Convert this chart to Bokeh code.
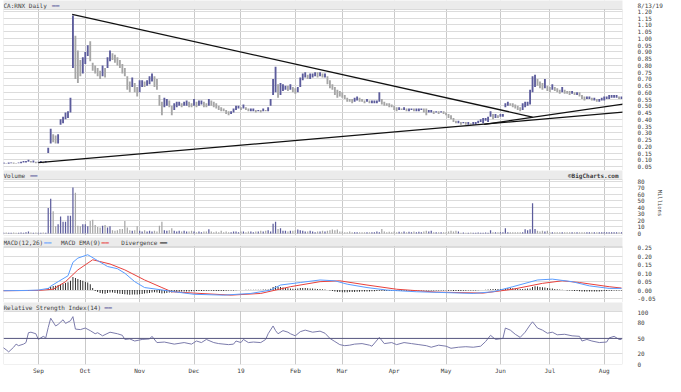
import pandas as pd
from bokeh.plotting import figure
from bokeh.layouts import column
from bokeh.models import (Range1d, FixedTicker, Span, BoxAnnotation,
                          NumeralTickFormatter, ColumnDataSource)
from bokeh.core.properties import value
from bokeh.embed import file_html
from bokeh.resources import INLINE

# ---------------- data ----------------
symbol_title = "CA:RNX Daily"
as_of = "8/13/19"
holidays = ["2018-09-03", "2018-10-08", "2018-12-25", "2018-12-26", "2019-01-01",
            "2019-02-18", "2019-04-19", "2019-05-20", "2019-07-01", "2019-08-05"]
month_labels = ["Sep", "Oct", "Nov", "Dec", "19", "Feb", "Mar", "Apr", "May", "Jun", "Jul", "Aug"]

lows = [
    0.07, 0.07, 0.07, 0.07, 0.075, 0.07, 0.07, 0.075, 0.075, 0.08,
    0.08, 0.085, 0.08, 0.08, 0.075, 0.08, 0.08, 0.075, 0.08, 0.15,
    0.22, 0.23, 0.22, 0.22, 0.36, 0.37, 0.40, 0.41, 0.45, 0.78,
    0.70, 0.67, 0.72, 0.74, 0.81, 0.87, 0.83, 0.76, 0.74, 0.72,
    0.70, 0.72, 0.71, 0.78, 0.83, 0.84, 0.82, 0.80, 0.78, 0.74,
    0.72, 0.62, 0.60, 0.64, 0.60, 0.57, 0.60, 0.64, 0.64, 0.65,
    0.66, 0.68, 0.64, 0.62, 0.50, 0.43, 0.49, 0.50, 0.49, 0.43,
    0.47, 0.49, 0.50, 0.49, 0.50, 0.50, 0.49, 0.49, 0.50, 0.49,
    0.50, 0.51, 0.49, 0.49, 0.50, 0.50, 0.49, 0.48, 0.47, 0.46,
    0.46, 0.44, 0.43, 0.44, 0.45, 0.47, 0.48, 0.47, 0.48, 0.47,
    0.46, 0.46, 0.46, 0.45, 0.46, 0.45, 0.46, 0.46, 0.46, 0.50,
    0.58, 0.60, 0.56, 0.58, 0.61, 0.62, 0.61, 0.62, 0.60, 0.59,
    0.60, 0.64, 0.69, 0.71, 0.70, 0.70, 0.71, 0.72, 0.71, 0.72,
    0.71, 0.71, 0.66, 0.63, 0.62, 0.58, 0.56, 0.57, 0.56, 0.55,
    0.53, 0.53, 0.52, 0.53, 0.54, 0.53, 0.53, 0.52, 0.53, 0.52,
    0.52, 0.52, 0.52, 0.53, 0.51, 0.50, 0.50, 0.49, 0.49, 0.47,
    0.46, 0.47, 0.47, 0.47, 0.46, 0.46, 0.47, 0.46, 0.46, 0.46,
    0.47, 0.45, 0.43, 0.45, 0.45, 0.44, 0.45, 0.44, 0.45, 0.44,
    0.43, 0.41, 0.40, 0.38, 0.37, 0.37, 0.36, 0.37, 0.36, 0.36,
    0.36, 0.36, 0.36, 0.37, 0.38, 0.37, 0.39, 0.38, 0.42, 0.40,
    0.41, 0.41, 0.42, 0.42, 0.49, 0.50, 0.50, 0.49, 0.48, 0.47,
    0.46, 0.47, 0.49, 0.50, 0.51, 0.60, 0.64, 0.65, 0.63, 0.62,
    0.63, 0.61, 0.60, 0.62, 0.61, 0.60, 0.59, 0.60, 0.59, 0.59,
    0.58, 0.59, 0.58, 0.58, 0.57, 0.55, 0.54, 0.55, 0.55, 0.54,
    0.54, 0.53, 0.53, 0.54, 0.54, 0.55, 0.55, 0.56, 0.56, 0.56,
    0.55, 0.55]

highs = [
    0.08, 0.08, 0.075, 0.08, 0.08, 0.08, 0.075, 0.08, 0.085, 0.09,
    0.09, 0.10, 0.09, 0.095, 0.085, 0.085, 0.09, 0.085, 0.09, 0.19,
    0.33, 0.29, 0.28, 0.29, 0.40, 0.42, 0.45, 0.46, 0.56, 1.17,
    1.02, 0.91, 0.84, 0.86, 0.90, 0.95, 0.98, 0.82, 0.80, 0.78,
    0.76, 0.80, 0.78, 0.86, 0.91, 0.89, 0.88, 0.86, 0.84, 0.81,
    0.78, 0.72, 0.68, 0.71, 0.67, 0.64, 0.69, 0.69, 0.68, 0.69,
    0.72, 0.74, 0.72, 0.70, 0.58, 0.53, 0.56, 0.55, 0.54, 0.50,
    0.52, 0.53, 0.53, 0.52, 0.53, 0.54, 0.53, 0.52, 0.55, 0.53,
    0.54, 0.54, 0.53, 0.52, 0.55, 0.54, 0.53, 0.52, 0.50, 0.49,
    0.48, 0.47, 0.46, 0.46, 0.48, 0.50, 0.50, 0.49, 0.51, 0.49,
    0.48, 0.48, 0.48, 0.47, 0.47, 0.47, 0.48, 0.47, 0.49, 0.55,
    0.70, 0.79, 0.66, 0.67, 0.66, 0.65, 0.65, 0.66, 0.64, 0.63,
    0.64, 0.71, 0.74, 0.75, 0.73, 0.74, 0.74, 0.75, 0.75, 0.75,
    0.74, 0.74, 0.72, 0.69, 0.66, 0.64, 0.62, 0.61, 0.60, 0.58,
    0.56, 0.55, 0.55, 0.56, 0.57, 0.56, 0.55, 0.54, 0.55, 0.54,
    0.54, 0.54, 0.54, 0.60, 0.55, 0.53, 0.52, 0.52, 0.51, 0.50,
    0.49, 0.49, 0.48, 0.49, 0.48, 0.48, 0.48, 0.48, 0.48, 0.48,
    0.48, 0.48, 0.48, 0.47, 0.47, 0.46, 0.46, 0.46, 0.46, 0.46,
    0.45, 0.44, 0.43, 0.41, 0.39, 0.39, 0.38, 0.38, 0.38, 0.38,
    0.37, 0.38, 0.38, 0.39, 0.40, 0.41, 0.41, 0.42, 0.46, 0.44,
    0.44, 0.43, 0.44, 0.44, 0.52, 0.53, 0.52, 0.52, 0.51, 0.50,
    0.49, 0.52, 0.53, 0.53, 0.62, 0.72, 0.73, 0.70, 0.68, 0.67,
    0.70, 0.65, 0.64, 0.66, 0.64, 0.63, 0.62, 0.64, 0.62, 0.61,
    0.61, 0.61, 0.60, 0.60, 0.60, 0.58, 0.57, 0.57, 0.57, 0.56,
    0.56, 0.55, 0.55, 0.56, 0.57, 0.57, 0.58, 0.58, 0.58, 0.58,
    0.57, 0.57]

volume = [
    1.5, 1, 1.5, 1, 1, 1.5, 1, 1, 1.5, 1,
    2, 3, 1.5, 1, 1.5, 1, 1, 1.5, 1, 39,
    53, 34, 11, 14, 26, 18, 18, 27, 27, 70,
    62, 12, 11, 14, 14, 11, 19, 21, 13, 10,
    9, 12, 13, 9, 11, 5, 4, 5, 7, 7,
    19, 9, 5, 4, 5, 11, 4, 3, 5, 3,
    4, 3, 4, 3, 12, 18, 5, 4, 5, 8,
    4, 3, 4, 3, 4, 3, 3, 4, 3, 2,
    3, 2, 3, 3, 6.5, 3, 2, 3, 2, 4,
    2, 3, 2, 2, 3, 3, 2, 3, 3, 2,
    3, 3, 2, 3, 3, 4, 3, 4, 5, 3,
    15, 18, 7, 8, 4, 4, 3, 4, 4, 5,
    6, 5, 4, 3, 3, 4, 3, 2, 3, 3,
    4, 3, 4, 5, 6, 5, 6, 3, 3, 2,
    2, 3, 2, 2, 2, 2, 2, 2, 2, 2,
    2, 2, 3, 2, 7, 3, 2, 2.5, 2, 3,
    2, 2.5, 2, 3, 2, 2.5, 2, 3, 2, 2.5,
    2, 3, 4, 3, 4, 2, 2, 2, 2, 2,
    2, 3, 4, 3, 4, 3, 1, 1.5, 1, 1,
    1.5, 1, 1, 1.5, 1, 1, 1.5, 1, 5, 2,
    2, 2, 2, 2, 8, 2, 2, 2, 2, 2,
    2, 2, 6.5, 5, 6.5, 46, 7, 4, 3, 4,
    3, 4, 2, 2, 2, 2, 2, 2, 2, 2,
    2, 2, 2, 2, 2, 2, 2, 2, 2, 2,
    2, 2, 2, 2, 2, 2, 2, 2, 2, 2,
    2, 2]

divergence = [
    0, 0, 0, 0, 0, 0, 0, 0, 0, 0,
    0, 0, 0, 0, 0, 0, 0, 0, 0, 0.012,
    0.020, 0.024, 0.026, 0.030, 0.034, 0.038, 0.042, 0.047, 0.055, 0.078,
    0.072, 0.066, 0.060, 0.055, 0.050, 0.045, 0.035, 0.012, -0.005, -0.012,
    -0.018, -0.020, -0.022, -0.018, -0.015, -0.015, -0.017, -0.020, -0.022, -0.024,
    -0.025, -0.027, -0.028, -0.027, -0.027, -0.026, -0.025, -0.023, -0.021, -0.019,
    -0.017, -0.014, -0.013, -0.015, -0.018, -0.020, -0.019, -0.017, -0.015, -0.014,
    -0.012, -0.011, -0.010, -0.009, -0.009, -0.008, -0.008, -0.007, -0.007, -0.006,
    -0.006, -0.005, -0.005, -0.004, -0.004, -0.004, -0.005, -0.006, -0.006, -0.005,
    -0.005, -0.004, -0.003, -0.003, -0.002, -0.001, 0.000, 0.001, 0.001, 0.002,
    0.002, 0.002, 0.002, 0.002, 0.002, 0.002, 0.003, 0.003, 0.004, 0.008,
    0.018, 0.022, 0.020, 0.018, 0.015, 0.013, 0.011, 0.010, 0.008, 0.008,
    0.009, 0.012, 0.013, 0.012, 0.011, 0.010, 0.009, 0.008, 0.007, 0.006,
    0.005, 0.004, 0.001, -0.003, -0.006, -0.009, -0.011, -0.012, -0.013, -0.013,
    -0.013, -0.012, -0.012, -0.011, -0.010, -0.010, -0.009, -0.009, -0.008, -0.008,
    -0.007, -0.007, -0.006, -0.004, -0.004, -0.005, -0.005, -0.005, -0.005, -0.005,
    -0.005, -0.004, -0.004, -0.004, -0.004, -0.003, -0.003, -0.003, -0.003, -0.003,
    -0.003, -0.003, -0.003, -0.003, -0.003, -0.003, -0.003, -0.003, -0.003, -0.003,
    -0.003, -0.004, -0.004, -0.005, -0.005, -0.005, -0.005, -0.004, -0.004, -0.003,
    -0.003, -0.002, -0.002, -0.001, 0.000, 0.001, 0.002, 0.003, 0.005, 0.006,
    0.006, 0.006, 0.006, 0.006, 0.010, 0.012, 0.012, 0.011, 0.010, 0.008,
    0.007, 0.007, 0.008, 0.009, 0.010, 0.018, 0.022, 0.021, 0.019, 0.017,
    0.015, 0.012, 0.010, 0.009, 0.007, 0.005, 0.003, 0.002, 0.000, -0.002,
    -0.003, -0.004, -0.005, -0.006, -0.007, -0.008, -0.009, -0.009, -0.009, -0.009,
    -0.009, -0.009, -0.008, -0.007, -0.006, -0.005, -0.004, -0.004, -0.003, -0.003,
    -0.002, -0.002]

macd_idx = [0, 11, 15, 19, 20, 23, 27, 29, 31, 35, 39, 43, 47, 50, 54, 58, 63, 70, 78, 90,
            101, 109, 113, 121, 129, 135, 140, 148, 156, 168, 180, 191, 199, 207, 217, 223,
            231, 238, 246, 251]
macd_val = [-0.004, -0.002, 0.0, 0.01, 0.023, 0.05, 0.085, 0.165, 0.19, 0.21, 0.175, 0.14,
            0.127, 0.10, 0.05, 0.015, 0.005, -0.01, -0.025, -0.03, -0.02, 0.0, 0.03, 0.045,
            0.06, 0.055, 0.035, 0.015, 0.0, -0.01, -0.015, -0.02, -0.01, 0.02, 0.06, 0.065,
            0.05, 0.025, 0.01, 0.01]
signal_idx = [0, 15, 21, 26, 31, 37, 44, 50, 58, 65, 69, 78, 93, 105, 117, 129, 137, 148,
              160, 176, 195, 207, 219, 227, 234, 246, 251]
signal_val = [-0.004, -0.002, 0.005, 0.05, 0.12, 0.18, 0.155, 0.12, 0.06, 0.015, -0.01,
              -0.018, -0.03, -0.02, 0.02, 0.05, 0.055, 0.03, 0.005, -0.012, -0.018, 0.005,
              0.04, 0.055, 0.045, 0.02, 0.012]

rsi_idx = [0, 2, 3, 5, 6, 7, 9, 10, 11, 12, 14, 15, 17, 18, 19, 20, 22, 23, 25, 26, 28, 29,
           30, 32, 34, 36, 38, 39, 41, 44, 47, 49, 50, 52, 54, 57, 60, 61, 63, 66, 70, 74,
           77, 79, 81, 83, 86, 88, 92, 94, 95, 97, 98, 100, 102, 105, 107, 108, 110, 111,
           112, 114, 116, 117, 119, 121, 123, 126, 129, 131, 133, 135, 137, 139, 141, 143,
           146, 149, 150, 153, 155, 158, 160, 163, 166, 169, 172, 174, 177, 180, 182, 185,
           188, 191, 194, 196, 198, 200, 203, 204, 206, 208, 210, 212, 214, 215, 217, 219,
           221, 223, 225, 228, 231, 234, 235, 237, 239, 242, 245, 246, 248, 250, 251]
rsi_val = [35, 28, 24, 33, 39, 36, 39, 42, 61, 62, 59, 48, 54, 51, 71, 89, 74, 77, 86, 79, 84,
           92, 68, 67, 70, 65, 59, 61, 55, 62, 59, 56, 48, 49, 45, 48, 49, 54, 42, 43, 39, 42,
           39, 45, 42, 48, 42, 40, 38, 39, 45, 42, 48, 42, 43, 42, 48, 59, 74, 65, 59, 65, 62,
           59, 55, 63, 66, 62, 64, 60, 50, 44, 38, 36, 37, 39, 40, 37, 35, 52, 40, 42, 38, 42,
           40, 38, 36, 33, 37, 35, 31, 33, 34, 33, 35, 44, 56, 48, 50, 70, 66, 58, 52, 62, 76,
           82, 70, 66, 60, 62, 57, 58, 55, 54, 45, 48, 45, 42, 43, 51, 54, 48, 48]

trend_x0 = [28.7, 15.0, 195.4]
trend_y0 = [1.179, 0.078, 0.362]
trend_x1 = [215.0, 252.0, 252.2]
trend_y1 = [0.417, 0.454, 0.514]

price_ticks = [round(0.05 * k, 2) for k in range(1, 25)]
volume_ticks = [0, 10, 20, 30, 40, 50, 60, 70, 80]
macd_ticks = [-0.05, 0.0, 0.05, 0.10, 0.15, 0.20, 0.25]
rsi_ticks = [0, 20, 50, 80, 100]

# ---------------- derived ----------------
assert len(lows) == len(highs) == len(volume) == len(divergence) == 252
dates = pd.bdate_range("2018-08-13", "2019-08-13")
dates = dates[~dates.isin(pd.to_datetime(holidays))]
N = len(dates)
idx = list(range(N))
month_idx = [i for i in range(1, N) if dates[i].month != dates[i - 1].month]

BLUE = "#5c5c9c"
GRAY = "#a6a6a6"
mid = [(h + l) / 2 for h, l in zip(highs, lows)]
colors = [BLUE] + [BLUE if mid[i] >= mid[i - 1] else GRAY for i in range(1, N)]
src = ColumnDataSource(dict(x=idx, lo=lows, hi=highs, vol=volume, div=divergence, c=colors))

FONT = "DejaVu Sans Mono"
FS = "6px"
TXT = "#3c3c3c"
W = 665
FRAME_L, FRAME_W = 3, 625
HH = 9
HDR_BG = "#ebebeb"
X0, X1 = 0.9, 251.4
xr = Range1d(X0, X1)
SW = "\u2501\u2501"


def px_to_x(px):
    # horizontal position inside the frame (pixels from the page edge) -> x data units
    return X0 + (px - FRAME_L) * (X1 - X0) / FRAME_W


def panel(data_h, lo, hi, bottom=0, xaxis=False, items=(), right_txt=None, ticks=(),
          fmt=None, extra_tick_label=None):
    hdr_top = hi + (hi - lo) * HH / data_h
    p = figure(width=W, height=data_h + HH + bottom, x_range=xr,
               y_range=Range1d(lo, hdr_top), title=None,
               output_backend="svg", toolbar_location=None,
               min_border_left=FRAME_L, min_border_right=W - FRAME_L - FRAME_W,
               min_border_top=0, min_border_bottom=bottom, y_axis_location="right",
               x_axis_location="below" if xaxis else None, outline_line_color=None)
    hc = (hi + hdr_top) / 2
    ax = p.yaxis[0]
    tick_list = list(ticks)
    overrides = {}
    if fmt is not None:
        overrides = {t: format(t, fmt) for t in ticks}
    if extra_tick_label:
        tick_list.append(hc)
        overrides[hc] = extra_tick_label
    ax.ticker = FixedTicker(ticks=tick_list)
    if overrides:
        ax.major_label_overrides = overrides
    ax.axis_line_color = None
    ax.major_tick_line_color = None
    ax.minor_tick_line_color = None
    ax.major_label_text_font = FONT
    ax.major_label_text_font_size = FS
    ax.major_label_text_color = TXT
    ax.major_label_standoff = 9
    p.xgrid.ticker = FixedTicker(ticks=month_idx)
    p.xgrid.grid_line_color = "#c9c9c9"
    p.ygrid.ticker = FixedTicker(ticks=list(ticks))
    p.ygrid.grid_line_color = "#dcdcdc"
    # header strip
    p.quad(left=[X0 - 5], right=[X1 + 5], bottom=[hi], top=[hdr_top + 1],
           fill_color=HDR_BG, line_color=None)
    # border of the data area
    p.add_layout(BoxAnnotation(top=hi, fill_color=None, line_color="#9a9a9a",
                               line_width=1, level="overlay"))
    if items:
        p.text(x=[px_to_x(it[1]) for it in items], y=[hc] * len(items),
               text=[it[0] for it in items], text_color=[it[2] for it in items],
               text_font=value(FONT), text_font_size=FS, text_baseline="middle",
               text_align="left")
    if right_txt:
        p.text(x=[px_to_x(right_txt[1])], y=[hc], text=[right_txt[0]], text_color=TXT,
               text_font=value(FONT), text_font_size=FS, text_baseline="middle",
               text_align="right", text_font_style="bold")
    return p


# price panel
p1 = panel(161, 0.0203, 1.2148, items=[(symbol_title, 3, TXT), (SW, 52, BLUE)],
           ticks=price_ticks, fmt=".2f", extra_tick_label=as_of)
p1.vbar(x="x", top="hi", bottom="lo", width=0.75, fill_color="c", line_color=None, source=src)
p1.segment(x0=trend_x0, y0=trend_y0, x1=trend_x1, y1=trend_y1, line_color="#111111", line_width=1.3)

# volume panel
p2 = panel(56, -3.05, 82.3, bottom=2, items=[("Volume", 3, TXT), (SW, 30, BLUE)],
           right_txt=("\u00a9BigCharts.com", 624), ticks=volume_ticks)
p2.yaxis.axis_label = "Millions"
p2.yaxis.axis_label_text_font = FONT
p2.yaxis.axis_label_text_font_size = "5.5px"
p2.yaxis.axis_label_text_font_style = "normal"
p2.yaxis.axis_label_text_color = TXT
p2.yaxis.axis_label_standoff = 9
p2.vbar(x="x", top="vol", bottom=0, width=0.5, fill_color="c", line_color=None, source=src)

# MACD panel
MB = "#5a9cff"
MR = "#e8413c"
p3 = panel(56, -0.0738, 0.2589,
           items=[("MACD(12,26)", 3, TXT), (SW, 44, MB), ("MACD EMA(9)", 61, TXT),
                  (SW, 102, MR), ("Divergence", 122, TXT), (SW, 161, "#111111")],
           ticks=macd_ticks, fmt=".2f")
p3.vbar(x="x", top="div", bottom=0, width=0.35, fill_color="#111111", line_color=None, source=src)
p3.line(signal_idx, signal_val, line_color=MR, line_width=1)
p3.line(macd_idx, macd_val, line_color=MB, line_width=1)

# RSI panel
p4 = panel(53, -0.3, 101.9, bottom=12, xaxis=True,
           items=[("Relative Strength Index(14)", 3, TXT), (SW, 105, BLUE)],
           ticks=rsi_ticks)
p4.ygrid.ticker = FixedTicker(ticks=[20, 80])
p4.add_layout(Span(location=50, dimension="width", line_color="#55557f", line_width=1))
p4.line(rsi_idx, rsi_val, line_color="#7b7bab", line_width=1)
xa = p4.xaxis[0]
xa.ticker = FixedTicker(ticks=month_idx)
xa.major_label_overrides = {m: lab for m, lab in zip(month_idx, month_labels)}
xa.axis_line_color = None
xa.major_tick_line_color = None
xa.minor_tick_line_color = None
xa.major_tick_out = 0
xa.major_tick_in = 0
xa.major_label_standoff = 2
xa.major_label_text_font = FONT
xa.major_label_text_font_size = FS
xa.major_label_text_color = TXT

layout = column(p1, p2, p3, p4)
open("out.html", "w").write(file_html(layout, INLINE))
